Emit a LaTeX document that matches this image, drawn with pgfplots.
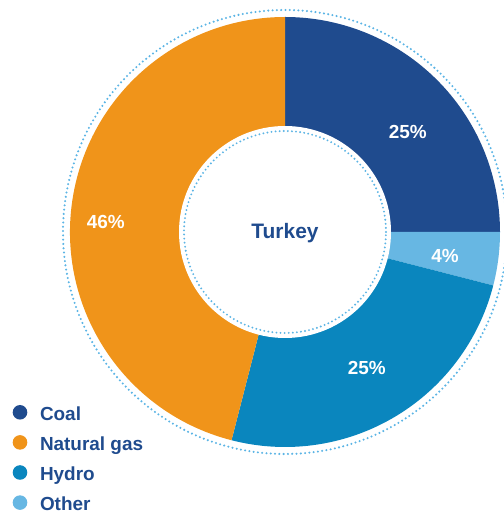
\documentclass[border=0pt]{standalone}
\usepackage{pgfplots}
\pgfplotsset{compat=1.18}
\usepackage{pgfplotstable}
\usepackage{fontspec}
\setmainfont{Liberation Sans}
\definecolor{coalc}{HTML}{1F4B8E}
\definecolor{gasc}{HTML}{F0941A}
\definecolor{hydroc}{HTML}{0A86BE}
\definecolor{otherc}{HTML}{67B7E3}
\definecolor{dotc}{HTML}{5BB4E5}
\definecolor{textc}{HTML}{1F4B8E}

% share of each source, in percent, clockwise from the top
\pgfplotstableread{
source  value colour
Coal    25    coalc
Other   4     otherc
Hydro   25    hydroc
Gas     46    gasc
}\sharetable

\newcommand\cx{285}
\newcommand\cy{281}
\newcommand\piewedge[3]{% start angle, value, colour
  \pgfmathsetmacro\endang{#1-3.6*#2}%
  \edef\tmp{\noexpand\fill[#3] (axis cs:\cx,\cy) -- ++(#1:215bp) arc[start angle=#1, end angle=\endang, radius=215bp] -- cycle;}\tmp
  \xdef\startang{\endang}%
}

\begin{document}
\begin{tikzpicture}
\begin{axis}[
  xmin=0, xmax=504, ymin=0, ymax=513,
  width=504bp, height=513bp, scale only axis,
  hide axis, clip=false,
  legend image code/.code={%
    \path[draw=none, fill=none] (0bp,-6bp) rectangle (27.3bp,8bp);
    \fill[#1, draw=none] (7.3bp,0.8bp) circle[radius=7.3bp];},
  legend cell align=left,
  legend style={draw=none, fill=none, inner sep=0pt, outer sep=0pt,
    at={(axis cs:12.7,108)}, anchor=north west,
    row sep=15bp,
    font=\fontsize{19}{22}\selectfont\bfseries\color{textc},
    nodes={inner sep=0pt, outer sep=0pt, text height=14bp, text depth=0bp}},
]
\coordinate (bl) at (axis cs:0,0);
\coordinate (tr) at (axis cs:504,513);
\xdef\startang{90}
\pgfplotstablegetrowsof{\sharetable}
\pgfmathtruncatemacro\lastrow{\pgfplotsretval-1}
\foreach \i in {0,...,\lastrow}{%
  \pgfplotstablegetelem{\i}{value}\of{\sharetable}\let\val\pgfplotsretval
  \pgfplotstablegetelem{\i}{colour}\of{\sharetable}\let\col\pgfplotsretval
  \piewedge{\startang}{\val}{\col}%
}
\edef\tmp{\noexpand\fill[white] (axis cs:\cx,\cy) circle[radius=106bp];}\tmp
\edef\tmp{\noexpand\draw[dotc, line width=2.3bp, line cap=round, dash pattern=on 0bp off 4.3bp] (axis cs:\cx,\cy) circle[radius=222bp];}\tmp
\edef\tmp{\noexpand\draw[dotc, line width=2.1bp, line cap=round, dash pattern=on 0bp off 4.1bp] (axis cs:\cx,\cy) circle[radius=101bp];}\tmp

\node[anchor=base, text=white, font=\fontsize{19}{22}\selectfont\bfseries] at (axis cs:407.8,374.7) {25\%};
\node[anchor=base, text=white, font=\fontsize{19}{22}\selectfont\bfseries] at (axis cs:445,250.3) {4\%};
\node[anchor=base, text=white, font=\fontsize{19}{22}\selectfont\bfseries] at (axis cs:366.7,138.7) {25\%};
\node[anchor=base, text=white, font=\fontsize{19}{22}\selectfont\bfseries] at (axis cs:105.7,284) {46\%};
\node[anchor=base, text=textc, font=\fontsize{21}{24}\selectfont\bfseries] at (axis cs:285,274) {Turkey};

\addlegendimage{coalc}\addlegendentry{Coal}
\addlegendimage{gasc}\addlegendentry{Natural gas}
\addlegendimage{hydroc}\addlegendentry{Hydro}
\addlegendimage{otherc}\addlegendentry{Other}
\end{axis}
\pgfresetboundingbox
\path (bl) rectangle (tr);
\end{tikzpicture}
\end{document}
